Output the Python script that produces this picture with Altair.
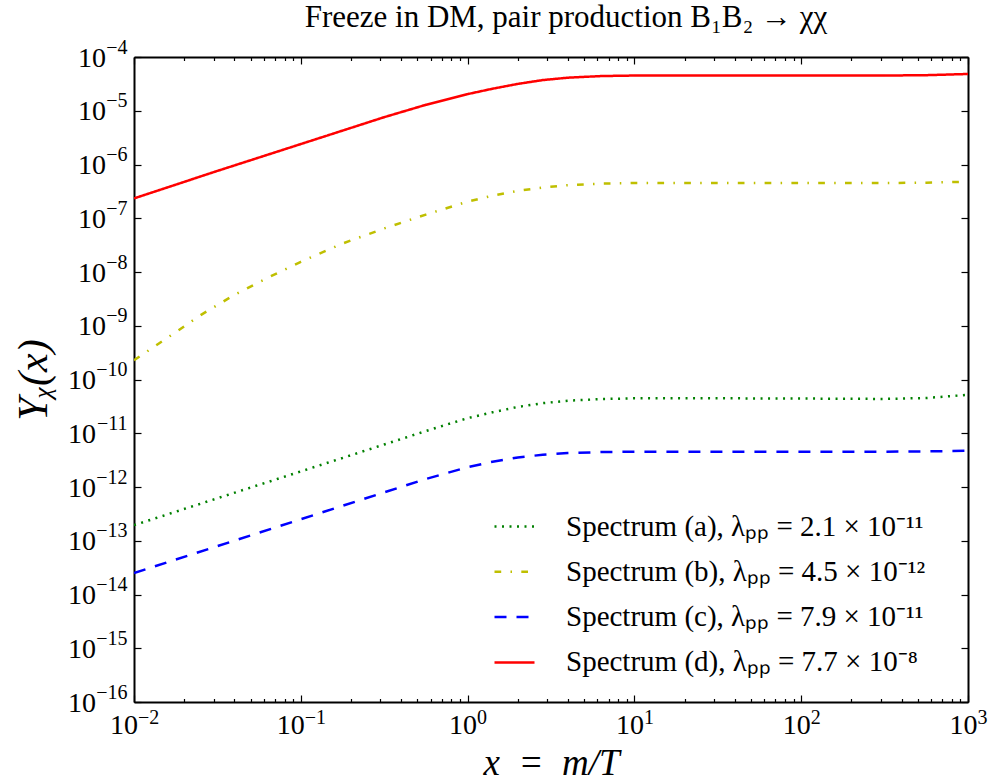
import altair as alt
import pandas as pd

# ---- data ----
series_names = [
    "Spectrum (a), λₚₚ = 2.1 × 10⁻¹¹",
    "Spectrum (b), λₚₚ = 4.5 × 10⁻¹²",
    "Spectrum (c), λₚₚ = 7.9 × 10⁻¹¹",
    "Spectrum (d), λₚₚ = 7.7 × 10⁻⁸",
]
series_colors = ["#008000", "#BFBF00", "#0000FF", "#FF0000"]
series_dashes = [[2, 5.5], [6.7, 9.3, 1.5, 9.3], [12, 10], [1, 0]]

x_common = [0.01, 0.0316, 0.1, 0.316, 0.562, 1.0, 1.41, 2.0, 2.82, 3.98, 6.31,
            10, 31.6, 100, 316, 562, 1000]
y_a = [1.95e-13, 6.17e-13, 1.95e-12, 6.17e-12, 1.10e-11, 1.91e-11, 2.45e-11,
       3.09e-11, 3.63e-11, 4.03e-11, 4.32e-11, 4.47e-11, 4.47e-11, 4.42e-11,
       4.35e-11, 4.52e-11, 5.19e-11]
y_c = [2.51e-14, 7.94e-14, 2.51e-13, 7.94e-13, 1.41e-12, 2.34e-12, 2.95e-12,
       3.55e-12, 3.98e-12, 4.27e-12, 4.47e-12, 4.54e-12, 4.54e-12, 4.54e-12,
       4.54e-12, 4.59e-12, 4.73e-12]
y_d = [2.34e-7, 7.59e-7, 2.40e-6, 7.59e-6, 1.29e-5, 2.04e-5, 2.57e-5, 3.16e-5,
       3.72e-5, 4.12e-5, 4.42e-5, 4.52e-5, 4.52e-5, 4.52e-5, 4.52e-5, 4.59e-5,
       4.83e-5]

x_b = [0.01, 0.0141, 0.0186, 0.0251, 0.0398, 0.0631, 0.1, 0.178, 0.316, 0.562,
       1.0, 1.41, 2.0, 2.82, 3.98, 6.31, 10, 31.6, 100, 316, 562, 1000]
y_b = [2.29e-10, 4.68e-10, 8.32e-10, 1.58e-9, 3.72e-9, 7.76e-9, 1.55e-8,
       3.39e-8, 6.46e-8, 1.17e-7, 2.04e-7, 2.63e-7, 3.24e-7, 3.72e-7, 4.12e-7,
       4.42e-7, 4.52e-7, 4.52e-7, 4.52e-7, 4.52e-7, 4.59e-7, 4.79e-7]

# tick positions and labels (mantissa "10" + exponent)
x_major = [0.01, 0.1, 1, 10, 100, 1000]
x_exp_labels = ["−2", "−1", "0", "1", "2", "3"]
x_minor = [m * d for d in [0.01, 0.1, 1, 10, 100] for m in range(2, 10)]
y_major = [1e-16, 1e-15, 1e-14, 1e-13, 1e-12, 1e-11, 1e-10, 1e-9, 1e-8,
           1e-7, 1e-6, 1e-5, 1e-4]
y_exp_labels = ["−16", "−15", "−14", "−13", "−12", "−11", "−10", "−9", "−8",
                "−7", "−6", "−5", "−4"]
base_label = "10"

rows = []
for name, xs, ys in [(series_names[0], x_common, y_a),
                     (series_names[1], x_b, y_b),
                     (series_names[2], x_common, y_c),
                     (series_names[3], x_common, y_d)]:
    for xv, yv in zip(xs, ys):
        rows.append({"x": xv, "y": yv, "series": name})
df = pd.DataFrame(rows)

W, H = 834, 645
FONT = "Liberation Serif"
F10 = 28
FEXP = 20


def exp_expr(labels):
    expr = "''"
    for lab in labels:
        e = lab.replace("−", "-")
        expr = f"abs(log(datum.value)/LN10 - ({e})) < 0.01 ? '{lab}' : " + expr
    return expr


xscale = alt.Scale(type="log", domain=[0.01, 1000], nice=False)
yscale = alt.Scale(type="log", domain=[1e-16, 1e-4], nice=False)

major_test = "abs(log(datum.value)/LN10 - round(log(datum.value)/LN10)) < 0.001"
x_off = {"condition": {"test": "datum.value < 0.5", "value": 3.5}, "value": 9}
y_pad10 = {"condition": {"test": "datum.value > 5e-10", "value": 7 + 21.5}, "value": 7 + 31.5}

no_tick = dict(ticks=False, domain=False, grid=False, labelFlush=False,
               labelOverlap=False, labelFont=FONT, labelColor="black")

legend = alt.Legend(title=None, orient="none", legendX=359, legendY=448,
                    symbolType="stroke", symbolSize=1600, symbolStrokeWidth=2.5,
                    labelFont=FONT, labelFontSize=29, labelColor="black",
                    labelOffset=30, rowPadding=8.3, padding=0, labelLimit=700)

base = alt.Chart(df)

lines = base.mark_line(strokeWidth=2.5, clip=True).encode(
    x=alt.X("x:Q", scale=xscale,
            axis=alt.Axis(orient="bottom", values=x_major, labelExpr=f"'{base_label}'",
                          labelFontSize=F10, labelAlign="right", labelBaseline="alphabetic",
                          labelOffset=x_off, labelPadding=31,
                          title="x\u2002=\u2002m/T", titleFont=FONT, titleFontSize=37,
                          titleFontStyle="italic", titleFontWeight="normal",
                          titleColor="black", titlePadding=6, **no_tick)),
    y=alt.Y("y:Q", scale=yscale,
            axis=alt.Axis(orient="left", values=y_major, labelExpr=f"'{base_label}'",
                          labelFontSize=F10, labelAlign="right", labelBaseline="alphabetic",
                          labelOffset=9, labelPadding=y_pad10,
                          title="Yᵪ(x)", titleFont=FONT, titleFontSize=42,
                          titleFontStyle="italic", titleFontWeight="normal",
                          titleColor="black", titlePadding=12, **no_tick)),
    color=alt.Color("series:N", scale=alt.Scale(domain=series_names, range=series_colors),
                    legend=legend),
    strokeDash=alt.StrokeDash("series:N", scale=alt.Scale(domain=series_names, range=series_dashes),
                              legend=legend),
)

exps = base.mark_line(strokeOpacity=0).encode(
    x=alt.X("x:Q", scale=xscale,
            axis=alt.Axis(orient="bottom", values=x_major, labelExpr=exp_expr(x_exp_labels),
                          labelFontSize=FEXP, labelAlign="left", labelBaseline="alphabetic",
                          labelOffset=x_off, labelPadding=21, title=None, **no_tick)),
    y=alt.Y("y:Q", scale=yscale,
            axis=alt.Axis(orient="left", values=y_major, labelExpr=exp_expr(y_exp_labels),
                          labelFontSize=FEXP, labelAlign="right", labelBaseline="alphabetic",
                          labelOffset=-4, labelPadding=7, title=None, **no_tick)),
    detail="series:N",
)

tick_common = dict(labels=False, grid=False, title=None, tickColor="black", tickWidth=1.2,
                   domain=True, domainColor="black", domainWidth=2)

ticks_a = base.mark_line(strokeOpacity=0).encode(
    x=alt.X("x:Q", scale=xscale,
            axis=alt.Axis(orient="top", offset=-H, values=x_major + x_minor,
                          tickSize={"condition": {"test": major_test, "value": 7}, "value": 3.5},
                          **tick_common)),
    y=alt.Y("y:Q", scale=yscale,
            axis=alt.Axis(orient="right", offset=-W, values=y_major, tickSize=7,
                          **tick_common)),
    detail="series:N",
)

ticks_b = base.mark_line(strokeOpacity=0).encode(
    x=alt.X("x:Q", scale=xscale,
            axis=alt.Axis(orient="bottom", offset=-H, values=x_major + x_minor,
                          tickSize={"condition": {"test": major_test, "value": 7}, "value": 3.5},
                          **tick_common)),
    y=alt.Y("y:Q", scale=yscale,
            axis=alt.Axis(orient="left", offset=-W, values=y_major, tickSize=7,
                          **tick_common)),
    detail="series:N",
)

chart = alt.layer(lines, exps, ticks_a, ticks_b).resolve_axis(
    x="independent", y="independent"
).properties(
    width=W, height=H,
    autosize=alt.AutoSizeParams(type="none"),
    padding={"left": 134, "top": 57, "right": 23, "bottom": 81},
    title=alt.TitleParams("Freeze in DM,  pair production B₁B₂ → χχ", font=FONT,
                          fontSize=31, fontWeight="normal", color="black",
                          anchor="middle", frame="group", offset=3, dx=15),
).configure_view(stroke=None).configure(background="white")

chart.save("out.html", embed_options={"renderer": "svg", "actions": False})
